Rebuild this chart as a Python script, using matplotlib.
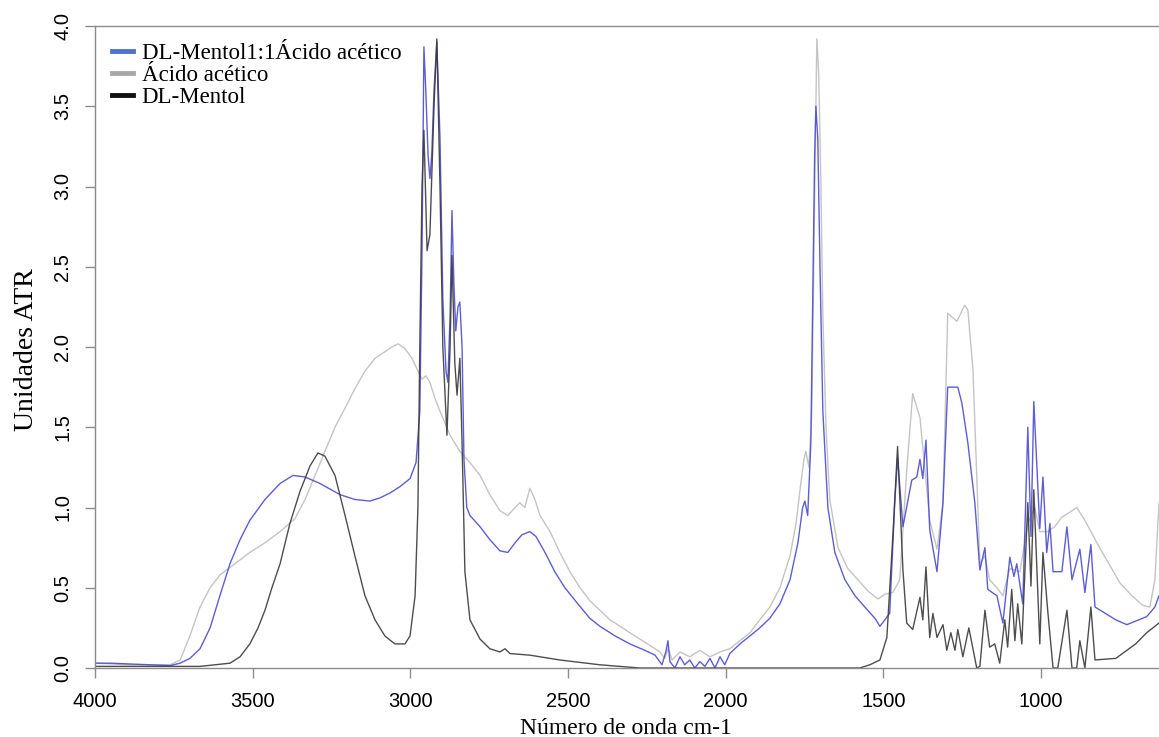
import matplotlib
matplotlib.use("Agg")
import matplotlib.pyplot as plt
from matplotlib.lines import Line2D

# ---- data (wavenumber cm-1, ATR units) ----
mix_wn = [4000, 3952, 3889, 3826, 3762, 3730, 3699, 3667, 3635, 3604, 3572, 3540, 3509, 3461,
          3413, 3372, 3334, 3287, 3223, 3176, 3128, 3096, 3065, 3033, 3001, 2982, 2970, 2963,
          2957, 2951, 2944, 2938, 2932, 2925, 2916, 2906, 2897, 2887, 2881, 2874, 2868, 2862,
          2856, 2849, 2843, 2836, 2830, 2821, 2811, 2779, 2748, 2716, 2691, 2668, 2646, 2621,
          2602, 2573, 2542, 2510, 2469, 2431, 2399, 2351, 2304, 2256, 2224, 2202, 2190, 2183,
          2177, 2161, 2145, 2130, 2114, 2098, 2082, 2066, 2050, 2034, 2018, 2003, 1987, 1955,
          1923, 1892, 1860, 1828, 1796, 1771, 1756, 1749, 1740, 1730, 1724, 1718, 1714, 1708,
          1701, 1692, 1676, 1654, 1622, 1590, 1559, 1527, 1511, 1480, 1464, 1455, 1438, 1410,
          1394, 1384, 1375, 1365, 1353, 1330, 1311, 1296, 1264, 1251, 1232, 1210, 1194, 1178,
          1169, 1140, 1121, 1099, 1086, 1077, 1058, 1042, 1032, 1023, 1004, 994, 982, 972, 962,
          934, 918, 902, 877, 861, 842, 829, 763, 728, 665, 639, 626]
mix_val = [0.03, 0.03, 0.025, 0.02, 0.015, 0.03, 0.06, 0.12, 0.25, 0.45, 0.65, 0.80, 0.92, 1.05,
           1.15, 1.20, 1.19, 1.15, 1.08, 1.05, 1.04, 1.06, 1.09, 1.13, 1.18, 1.28, 1.6, 2.6,
           3.87, 3.6, 3.2, 3.05, 3.2, 3.6, 3.90, 3.3, 2.3, 1.85, 1.78, 2.2, 2.85, 2.4,
           2.1, 2.25, 2.28, 2.0, 1.3, 1.0, 0.95, 0.88, 0.80, 0.73, 0.72, 0.78, 0.83, 0.85,
           0.82, 0.72, 0.60, 0.50, 0.40, 0.31, 0.26, 0.20, 0.15, 0.11, 0.08, 0.02, 0.10, 0.17,
           0.04, 0.0, 0.07, 0.02, 0.05, 0.0, 0.04, 0.01, 0.06, 0.0, 0.07, 0.02, 0.09, 0.15,
           0.20, 0.25, 0.31, 0.40, 0.55, 0.78, 1.00, 1.04, 0.95, 1.4, 2.3, 3.2, 3.5, 3.3,
           2.5, 1.6, 1.0, 0.72, 0.55, 0.45, 0.38, 0.31, 0.26, 0.34, 1.03, 1.31, 0.88, 1.17,
           1.19, 1.30, 1.18, 1.42, 0.86, 0.60, 1.03, 1.75, 1.75, 1.65, 1.40, 1.03, 0.61, 0.75,
           0.49, 0.45, 0.28, 0.69, 0.57, 0.65, 0.40, 1.50, 0.82, 1.66, 0.87, 1.19, 0.72, 0.90, 0.60,
           0.60, 0.88, 0.55, 0.74, 0.47, 0.77, 0.38, 0.30, 0.27, 0.32, 0.38, 0.45]

acid_wn = [4000, 3889, 3762, 3730, 3699, 3667, 3635, 3604, 3556, 3509, 3461, 3413, 3366, 3334,
           3302, 3271, 3239, 3207, 3176, 3144, 3112, 3081, 3058, 3039, 3017, 2995, 2976, 2963,
           2951, 2938, 2922, 2906, 2874, 2843, 2811, 2779, 2748, 2716, 2691, 2668, 2653, 2637,
           2621, 2605, 2589, 2557, 2526, 2494, 2462, 2431, 2399, 2367, 2335, 2304, 2272, 2240,
           2209, 2193, 2183, 2170, 2145, 2114, 2082, 2050, 2018, 1987, 1955, 1923, 1892, 1860,
           1828, 1796, 1777, 1765, 1752, 1746, 1736, 1727, 1721, 1714, 1711, 1705, 1698, 1692,
           1682, 1670, 1644, 1613, 1581, 1549, 1517, 1495, 1470, 1448, 1426, 1407, 1384, 1353,
           1330, 1311, 1296, 1267, 1242, 1232, 1216, 1194, 1178, 1163, 1140, 1121, 1099, 1067,
           1042, 1020, 1004, 979, 957, 934, 909, 887, 861, 823, 782, 750, 712, 677, 655, 639, 626]
acid_val = [0.03, 0.02, 0.02, 0.05, 0.2, 0.38, 0.5, 0.58, 0.65, 0.72, 0.78, 0.85, 0.93, 1.05,
            1.2, 1.35, 1.5, 1.62, 1.74, 1.85, 1.93, 1.97, 2.00, 2.02, 1.99, 1.93, 1.85, 1.80,
            1.82, 1.78, 1.68, 1.6, 1.45, 1.35, 1.28, 1.2, 1.08, 0.98, 0.95, 1.0, 1.03, 1.0,
            1.12, 1.05, 0.95, 0.85, 0.72, 0.6, 0.5, 0.42, 0.36, 0.3, 0.26, 0.22, 0.18, 0.14,
            0.1, 0.06, 0.12, 0.05, 0.1, 0.07, 0.11, 0.07, 0.1, 0.12, 0.17, 0.22, 0.3, 0.38,
            0.5, 0.7, 0.9, 1.1, 1.3, 1.35, 1.25, 1.6, 2.5, 3.5, 3.92, 3.7, 3.0, 2.2,
            1.5, 1.05, 0.75, 0.62, 0.55, 0.48, 0.43, 0.46, 0.47, 0.55, 1.23, 1.71, 1.56, 0.92,
            0.74, 1.03, 2.21, 2.16, 2.26, 2.23, 1.86, 0.65, 0.7, 0.55, 0.5, 0.45, 0.62, 0.6,
            0.9, 1.0, 0.85, 0.85, 0.88, 0.94, 0.97, 1.0, 0.92, 0.78, 0.64, 0.53, 0.45, 0.39, 0.38, 0.55, 1.03]

ment_wn = [4000, 3826, 3667, 3572, 3540, 3509, 3483, 3461, 3439, 3413, 3382, 3350, 3318, 3293,
           3271, 3239, 3207, 3176, 3144, 3112, 3081, 3049, 3017, 3001, 2985, 2976, 2970, 2963,
           2957, 2947, 2938, 2925, 2916, 2906, 2897, 2884, 2874, 2868, 2859, 2852, 2843, 2836,
           2827, 2811, 2779, 2748, 2716, 2700, 2684, 2621, 2526, 2399, 2272, 2082, 1765, 1575,
           1543, 1511, 1489, 1470, 1455, 1438, 1426, 1407, 1384, 1375, 1365, 1353, 1343, 1330,
           1311, 1299, 1286, 1273, 1264, 1248, 1229, 1204, 1194, 1178, 1163, 1147, 1131, 1115,
           1106, 1093, 1083, 1074, 1061, 1042, 1032, 1023, 1004, 994, 979, 962, 947, 918, 902,
           887, 877, 861, 842, 829, 763, 700, 665, 626]
ment_val = [0.01, 0.01, 0.01, 0.03, 0.07, 0.15, 0.25, 0.36, 0.5, 0.65, 0.9, 1.1, 1.26, 1.34,
            1.32, 1.2, 0.95, 0.7, 0.45, 0.3, 0.2, 0.15, 0.15, 0.2, 0.45, 1.0, 2.0, 3.0,
            3.35, 2.6, 2.7, 3.5, 3.92, 3.0, 2.0, 1.45, 2.0, 2.57, 1.9, 1.7, 1.93, 1.4,
            0.6, 0.3, 0.18, 0.12, 0.1, 0.12, 0.09, 0.08, 0.05, 0.02, 0.0, 0.0, 0.0, 0.0,
            0.02, 0.05, 0.19, 0.82, 1.38, 0.61, 0.28, 0.24, 0.44, 0.30, 0.63, 0.19, 0.34, 0.19,
            0.27, 0.11, 0.22, 0.11, 0.24, 0.07, 0.25, 0.0, 0.01, 0.36, 0.13, 0.15, 0.03, 0.30,
            0.13, 0.49, 0.17, 0.40, 0.15, 1.03, 0.51, 1.11, 0.15, 0.72, 0.36, 0.0, 0.0, 0.36, 0.0,
            0.0, 0.17, 0.0, 0.38, 0.05, 0.06, 0.15, 0.22, 0.28]

labels = ["DL-Mentol1:1Ácido acético", "Ácido acético", "DL-Mentol"]
x_ticks = [4000, 3500, 3000, 2500, 2000, 1500, 1000]
y_ticks = [0.0, 0.5, 1.0, 1.5, 2.0, 2.5, 3.0, 3.5, 4.0]

serif = ["Liberation Serif", "DejaVu Serif"]
sans = ["Liberation Sans", "DejaVu Sans"]

fig = plt.figure(figsize=(11.59, 7.37), dpi=100)
W, H = 1159, 737
ax = fig.add_axes([95 / W, (H - 668) / H, (W - 95) / W, (668 - 26) / H])

ax.plot(acid_wn, acid_val, color="#c4c4c4", lw=1.0)
ax.plot(mix_wn, mix_val, color="#4b4bd2", lw=1.0, alpha=0.9)
ax.plot(ment_wn, ment_val, color="#3a3a3a", lw=1.0, alpha=0.9)

ax.set_xlim(4000, 626)
ax.set_ylim(0, 4.0)
ax.set_xticks(x_ticks)
ax.set_yticks(y_ticks)
ax.set_xticklabels([str(t) for t in x_ticks], family=sans, fontsize=14.5)
ax.set_yticklabels(["%.1f" % t for t in y_ticks], family=sans, fontsize=14.5,
                   rotation=90, va="center")
ax.tick_params(axis="both", direction="out", length=7.5, width=1.0, color="#8c8c8c")
ax.tick_params(axis="x", pad=10)
ax.tick_params(axis="y", pad=9)

for s in ["left", "bottom", "top"]:
    ax.spines[s].set_color("#8c8c8c")
    ax.spines[s].set_linewidth(1.0)
ax.spines["right"].set_visible(False)

fig.text(626 / W, 1 - 734 / H, "Número de onda cm-1", family=serif, fontsize=17,
         ha="center", va="baseline")
fig.text(27 / W, 1 - 350 / H, "Unidades ATR", family=serif, fontsize=20,
         ha="center", va="center", rotation=90)

handles = [Line2D([], [], color="#4f72cf", lw=3.5),
           Line2D([], [], color="#a8a8a8", lw=3.5),
           Line2D([], [], color="#111111", lw=3.5)]
ax.legend(handles, labels, loc="upper left", bbox_to_anchor=(112 / W, 1 - 43 / H),
          bbox_transform=fig.transFigure, frameon=False, prop={"family": serif, "size": 16.5},
          handlelength=0.9, handletextpad=0.4, labelspacing=0.05, borderpad=0, borderaxespad=0)

fig.savefig("out.png", dpi=100)
